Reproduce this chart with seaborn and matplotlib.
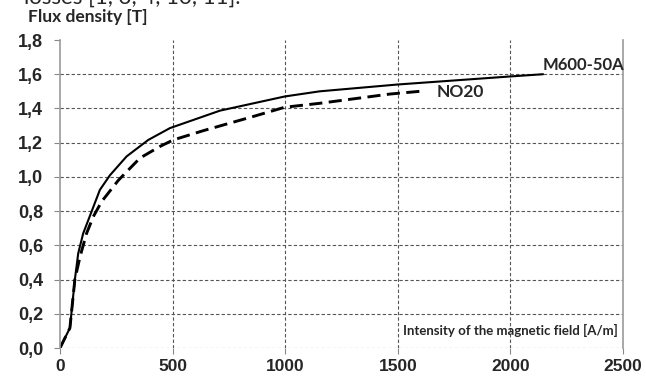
import seaborn as sns
import matplotlib.pyplot as plt
import pandas as pd

# B-H curves
h_m600 = [0, 44, 66, 81, 103, 141, 177, 222, 296, 392, 488, 710, 998, 1153, 1500, 2000, 2145]
b_m600 = [0, 0.117, 0.40, 0.554, 0.67, 0.80, 0.924, 1.01, 1.12, 1.216, 1.285, 1.387, 1.47, 1.50,
          1.54, 1.587, 1.60]

h_no20 = [0, 44, 66, 89, 118, 148, 185, 259, 355, 444, 503, 636, 858, 998, 1153, 1464, 1597]
b_no20 = [0, 0.117, 0.40, 0.534, 0.67, 0.768, 0.856, 0.98, 1.11, 1.178, 1.216, 1.27, 1.353,
          1.407, 1.43, 1.484, 1.50]

x_ticks = [0, 500, 1000, 1500, 2000, 2500]
y_ticks = [0.0, 0.2, 0.4, 0.6, 0.8, 1.0, 1.2, 1.4, 1.6, 1.8]
y_labels = [f"{v:.1f}".replace(".", ",") for v in y_ticks]

m600 = pd.DataFrame({"H": h_m600, "B": b_m600})
no20 = pd.DataFrame({"H": h_no20, "B": b_no20})

sns.set_style("white")
plt.rcParams["font.family"] = ["Liberation Sans", "DejaVu Sans"]

fig = plt.figure(figsize=(6.46, 3.78), dpi=100)
ax = fig.add_axes([60 / 646, 30 / 378, 563 / 646, 308 / 378])

sns.lineplot(data=m600, x="H", y="B", ax=ax, color="black", lw=1.5, sort=False)
sns.lineplot(data=no20, x="H", y="B", ax=ax, color="black", lw=2.1, sort=False,
             dashes=False, linestyle=(0, (4.5, 2.2)))

ax.set_xlim(0, 2500)
ax.set_ylim(0, 1.8)
ax.set_xticks(x_ticks)
ax.set_xticklabels([str(v) for v in x_ticks], fontweight="bold", fontsize=12.5)
ax.set_yticks(y_ticks)
ax.set_yticklabels(y_labels, fontweight="bold", fontsize=13)
ax.set_xlabel("")
ax.set_ylabel("")

# dashed grid, none at the top
for v in y_ticks[:-1]:
    ax.axhline(v, color="#555555", lw=0.8, ls=(0, (3, 2)), zorder=0)
for v in x_ticks[1:-1]:
    ax.axvline(v, color="#555555", lw=0.8, ls=(0, (3, 2)), zorder=0)

for s in ["top", "bottom"]:
    ax.spines[s].set_visible(False)
for s in ["left", "right"]:
    ax.spines[s].set_color("#999999")
    ax.spines[s].set_linewidth(1.2)

ax.tick_params(axis="y", direction="out", length=4, color="#888888", width=0.8, left=True, pad=8)
ax.tick_params(axis="x", direction="out", length=4, color="#888888", width=0.8, bottom=True, pad=4)

lab = dict(family=["Lato", "DejaVu Sans"], fontweight="bold")
ax.text(2145, 1.655, "M600-50A", ha="left", va="center", fontsize=12, **lab)
ax.text(1672, 1.495, "NO20", ha="left", va="center", fontsize=12.5, **lab)
ax.text(2478, 0.10, "Intensity of the magnetic field [A/m]", ha="right", va="center",
        fontsize=9.5, **lab)

fig.text(28 / 646, 1 - 17 / 378, "Flux density [T]", ha="left", va="center", fontsize=12.5, **lab)
fig.text(240 / 646, 1 - 3.5 / 378, "losses [1, 3, 4, 10, 11].", ha="right", va="baseline",
         family=["Lato", "DejaVu Sans"], fontsize=16)

fig.savefig("out.png", dpi=100)
